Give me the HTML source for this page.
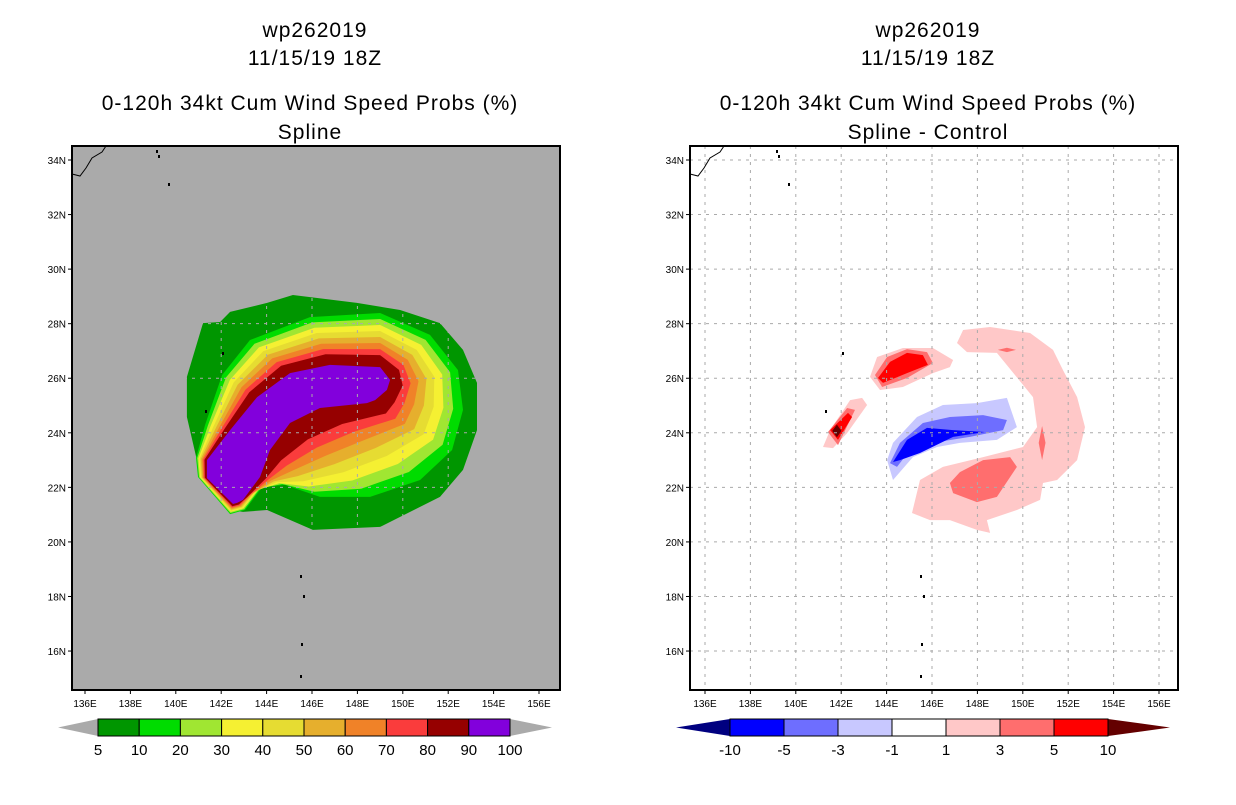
<!DOCTYPE html>
<html><head><meta charset="utf-8"><style>
body{margin:0;background:#fff;width:1236px;height:800px;overflow:hidden}
svg{font-family:"Liberation Sans",sans-serif}
</style></head><body>
<svg id="s" width="1236" height="800">
<g font-size="21" text-anchor="middle" letter-spacing="1">
<text x="315" y="37">wp262019</text>
<text x="315" y="65">11/15/19 18Z</text>
<text x="310" y="110">0-120h 34kt Cum Wind Speed Probs (%)</text>
<text x="310" y="139">Spline</text>
</g>
<g font-size="21" text-anchor="middle" letter-spacing="1">
<text x="928" y="37">wp262019</text>
<text x="928" y="65">11/15/19 18Z</text>
<text x="928" y="110">0-120h 34kt Cum Wind Speed Probs (%)</text>
<text x="928" y="139">Spline - Control</text>
</g>
</svg>
<script>
const lonTicks=[136,138,140,142,144,146,148,150,152,154,156];
const latTicks=[16,18,20,22,24,26,28,30,32,34];
const probLevels=[5,10,20,30,40,50,60,70,80,90,100];
const probColors=['#009600','#00dc00','#a0e632','#f5f032','#e6dc32','#e6af2d','#f08228','#fa3c3c','#960000','#8200dc'];
const diffLevels=['-10','-5','-3','-1','1','3','5','10'];
const diffColors=['#0000ff','#6e6eff','#c8c8ff','#ffffff','#ffc8c8','#ff6e6e','#ff0000','#640000'];
const innerRing=[[142.52,21.39],[141.37,22.34],[141.37,23.0],[142.39,24.1],[143.58,25.31],[145.03,26.19],[146.79,26.49],[149.0,26.41],[149.44,25.94],[149.3,25.57],[148.78,25.2],[148.42,25.09],[146.35,24.91],[145.03,24.36],[144.15,23.37],[143.71,22.38],[142.96,21.54],[142.7,21.43]];
const outerRing=[[142.39,21.02],[140.98,22.38],[140.89,23.08],[141.29,24.29],[142.04,26.12],[143.27,27.4],[145.91,28.24],[149.0,28.39],[151.2,27.59],[152.43,26.3],[152.65,24.84],[152.17,23.37],[150.76,22.27],[148.56,21.65],[146.35,21.65],[144.81,22.09],[143.8,22.01],[143.05,21.17]];
const ring5=[[140.49,26.05],[141.2,28.02],[141.95,28.06],[142.39,28.43],[144.02,28.76],[145.16,29.05],[147.98,28.76],[149.88,28.5],[151.64,28.02],[152.65,27.04],[153.27,25.83],[153.27,24.1],[152.65,22.64],[151.64,21.65],[149.0,20.55],[146.04,20.44],[144.02,21.17],[142.96,21.1],[142.39,21.17],[140.93,23.0],[140.49,24.58]];
const diffShapes=[
 {lvl:4,pts:[[143.27,26.05],[143.58,26.78],[144.72,27.11],[146.04,27.11],[146.93,26.67],[146.79,26.41],[146.04,26.19],[144.72,25.68],[143.71,25.57]]},
 {lvl:5,pts:[[143.49,26.12],[144.02,26.78],[144.9,27.07],[145.78,26.96],[146.04,26.56],[144.9,26.01],[143.8,25.68]]},
 {lvl:6,pts:[[143.62,26.01],[144.15,26.6],[144.9,26.93],[145.6,26.85],[145.82,26.49],[144.9,26.19],[143.84,25.83]]},
 {lvl:4,pts:[[141.2,23.48],[141.51,24.1],[142.39,25.2],[142.92,25.28],[143.14,25.02],[142.26,23.99],[141.64,23.44]]},
 {lvl:5,pts:[[141.42,24.03],[142.26,24.91],[142.61,24.84],[141.86,23.55]]},
 {lvl:6,pts:[[141.51,24.1],[142.3,24.73],[142.48,24.58],[141.86,23.74]]},
 {lvl:7,pts:[[141.61,24.07],[141.81,24.3],[142.01,24.07],[141.81,23.84]]},
 {lvl:2,pts:[[144.02,23.0],[144.28,23.63],[145.34,24.58],[146.48,25.02],[147.98,25.09],[149.3,25.28],[149.74,24.21],[148.86,23.74],[147.23,23.63],[146.22,23.48],[145.16,23.11],[144.28,22.27]]},
 {lvl:1,pts:[[144.15,22.89],[144.59,23.63],[145.6,24.36],[146.79,24.58],[148.25,24.65],[149.3,24.47],[149.13,24.1],[147.67,23.85],[146.22,23.66],[145.03,23.37],[144.46,22.75]]},
 {lvl:0,pts:[[144.28,22.93],[144.9,23.74],[145.78,24.18],[146.93,24.1],[148.33,24.03],[146.93,23.85],[145.47,23.26],[144.59,23.0]]},
 {lvl:4,pts:[[145.12,21.06],[145.47,22.27],[146.48,22.75],[148.25,23.11],[150.01,23.48],[150.63,24.21],[150.45,25.31],[148.86,26.93],[147.54,26.96],[147.1,27.29],[147.37,27.77],[148.56,27.88],[150.32,27.66],[151.33,27.04],[151.77,26.3],[152.39,25.31],[152.74,24.21],[152.39,23.0],[151.51,22.27],[150.89,22.16],[150.76,21.54],[149.74,21.17],[148.42,20.8],[148.56,20.33],[147.98,20.44],[146.79,20.8],[145.91,20.8]]},
 {lvl:5,pts:[[146.79,22.16],[147.23,22.56],[148.25,23.0],[149.44,23.11],[149.74,22.75],[148.86,21.65],[147.98,21.46],[146.93,21.79]]},
 {lvl:5,pts:[[148.9,27.04],[149.3,27.12],[149.7,27.04],[149.3,26.96]]},
 {lvl:5,pts:[[150.85,24.25],[151.0,23.63],[150.85,23.0],[150.7,23.63]]}
];
const S=document.getElementById('s');
const NS='http://www.w3.org/2000/svg';
function mk(t,a,p){const e=document.createElementNS(NS,t);for(const k in a)e.setAttribute(k,a[k]);(p||S).appendChild(e);return e;}
function panel(x0,cx136){
  const px=lon=>cx136+(lon-136)*22.7, py=lat=>160+(34-lat)*27.28;
  return {x0,x1:x0+488,y0:146,y1:690,px,py};
}
const L=panel(72,85), R=panel(690,705);
function poly(P,pts,fill,g){return mk('polygon',{points:pts.map(p=>P.px(p[0]).toFixed(1)+','+P.py(p[1]).toFixed(1)).join(' '),fill:fill},g);}
function lerpRing(t){return innerRing.map((p,i)=>[p[0]+(outerRing[i][0]-p[0])*t,p[1]+(outerRing[i][1]-p[1])*t]);}
function frame(P,bg,name){
  const g=mk('g',{});
  
  
  const r=mk('rect',{x:P.x0,y:P.y0,width:P.x1-P.x0,height:P.y1-P.y0,fill:bg},g);
  
  
  return g;
}
function grid(P,g,off){
  lonTicks.forEach(l=>{const x=P.px(l);mk('line',{x1:x,x2:x,y1:P.y0,y2:P.y1,stroke:'#aaa','stroke-dasharray':'3,5'},g);
    mk('line',{x1:x,x2:x,y1:P.y1,y2:P.y1+4,stroke:'#000'},g);
    const t=mk('text',{x:x,y:P.y1+17,'font-size':10,'text-anchor':'middle'},g);t.textContent=l+'E';
    
    });
  latTicks.forEach(l=>{const y=P.py(l);mk('line',{x1:P.x0,x2:P.x1,y1:y,y2:y,stroke:'#aaa','stroke-dasharray':'3,5'},g);
    mk('line',{x1:P.x0-4,x2:P.x0,y1:y,y2:y,stroke:'#000'},g);
    const t=mk('text',{x:P.x0-6,y:y+4,'font-size':10,'text-anchor':'end'},g);t.textContent=l+'N';
    
    });
  mk('path',{d:`M${P.x0} ${P.y0+28}l8 2l6-8l6-10l10-6l4-6`,fill:'none',stroke:'#000'},g);
  [[158,150],[160,155],[170,183],[302,575],[305,595],[303,643],[302,675],[207,410],[224,352]].forEach(p=>mk('rect',{x:p[0]+off-2,y:p[1],width:2,height:3,fill:'#000'},g));
  mk('rect',{x:P.x0,y:P.y0,width:P.x1-P.x0,height:P.y1-P.y0,fill:'none',stroke:'#000','stroke-width':2},g);
}
const gl=frame(L,'#aaaaaa','left-map');
const c5=poly(L,ring5,probColors[0],gl);


for(let i=1;i<probColors.length;i++){
  const lvl=probLevels[i];
  const t=i===probColors.length-1?0:(100-lvl)/90;
  const e=poly(L,lerpRing(t),probColors[i],gl);
  
  
}
grid(L,gl,0);
const gr=frame(R,'#ffffff','right-map');
diffShapes.forEach(d=>{const e=poly(R,d.pts,diffColors[d.lvl],gr);
  
  });
grid(R,gr,620);
function cbar(x0,x1,bx0,bx1,cols,labels,lowC,highC,name){
  const g=mk('g',{});
  
  
  const y0=719,y1=736,w=(bx1-bx0)/cols.length;
  mk('polygon',{points:`${x0},${(y0+y1)/2} ${bx0},${y0} ${bx0},${y1}`,fill:lowC},g);
  mk('polygon',{points:`${x1},${(y0+y1)/2} ${bx1},${y0} ${bx1},${y1}`,fill:highC},g);
  cols.forEach((c,i)=>{const r=mk('rect',{x:bx0+i*w,y:y0,width:w,height:y1-y0,fill:c,stroke:'#000'},g);
    
    });
  labels.forEach((l,i)=>{const t=mk('text',{x:bx0+i*w,y:755,'font-size':15,'text-anchor':'middle'},g);t.textContent=l;
    
    });
}
cbar(58,552,98,510,probColors,probLevels,'#aaaaaa','#aaaaaa','left-colorbar');
cbar(676,1170,730,1108,diffColors.slice(0,7),diffLevels,'#000080','#640000','right-colorbar');
</script>
</body></html>
